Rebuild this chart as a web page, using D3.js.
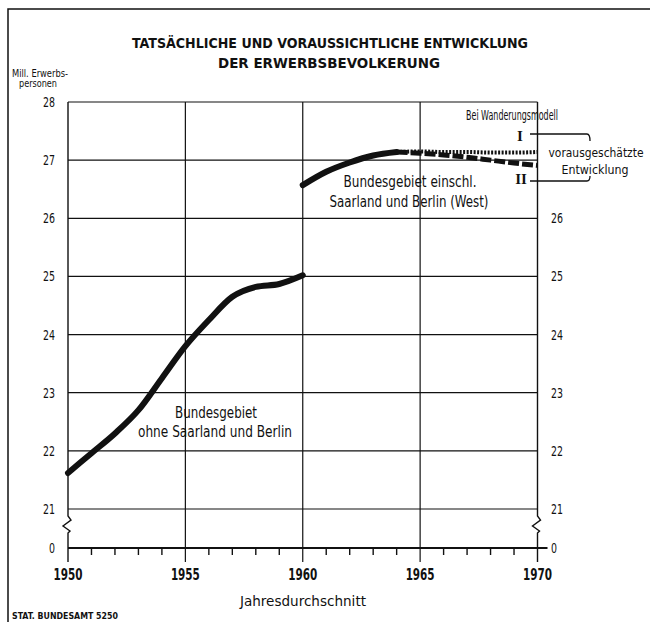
<!DOCTYPE html>
<html>
<head>
<meta charset="utf-8">
<script src="https://cdn.jsdelivr.net/npm/d3@7"></script>
<style>
  body { margin: 0; background: #fff; }
  svg { display: block; }
  text { font-family: "DejaVu Sans", "Liberation Sans", sans-serif; font-stretch: condensed; fill: #111; }
</style>
</head>
<body>
<div id="chart"></div>
<script>
// actual development, old territory (without Saarland and Berlin)
const years1 = [1950, 1951, 1952, 1953, 1954, 1955, 1956, 1957, 1958, 1959, 1960];
const values1 = [21.62, 21.96, 22.3, 22.7, 23.25, 23.8, 24.25, 24.65, 24.82, 24.87, 25.02];

// actual development incl. Saarland and Berlin (West)
const years2 = [1960, 1961, 1962, 1963, 1964];
const values2 = [26.57, 26.8, 26.96, 27.08, 27.14];

// projections, migration model I and II
const projYears = [1964, 1965, 1966, 1967, 1968, 1969, 1970];
const projI = [27.14, 27.15, 27.14, 27.14, 27.13, 27.13, 27.14];
const projII = [27.14, 27.12, 27.09, 27.05, 27.0, 26.95, 26.91];

const yTicks = [0, 21, 22, 23, 24, 25, 26, 27, 28];
const yTicksRight = [0, 21, 22, 23, 24, 25, 26];
const xMajor = [1950, 1955, 1960, 1965, 1970];

const W = 650, H = 622;
const svg = d3.select("#chart").append("svg")
    .attr("width", W)
    .attr("height", H);

const x = d3.scaleLinear().domain([1950, 1970]).range([68, 537.5]);
// broken axis: 0 sits just below 21
const y = d3.scaleLinear().domain([0, 21, 28]).range([548, 509, 102]);

const ink = "#111";

// outer frame (top + left only)
svg.append("path")
    .attr("d", "M8,622 L8,9 L650,9")
    .attr("fill", "none").attr("stroke", ink).attr("stroke-width", 1.5);

// title
svg.append("text").attr("x", 330).attr("y", 48).attr("text-anchor", "middle")
    .attr("textLength", 396).attr("lengthAdjust", "spacingAndGlyphs")
    .style("font-size", "14px").style("font-weight", "bold")
    .text("TATSÄCHLICHE UND VORAUSSICHTLICHE ENTWICKLUNG");
svg.append("text").attr("x", 329).attr("y", 68).attr("text-anchor", "middle")
    .attr("textLength", 222).attr("lengthAdjust", "spacingAndGlyphs")
    .style("font-size", "14px").style("font-weight", "bold")
    .text("DER ERWERBSBEVOLKERUNG");

// unit label
svg.append("text").attr("x", 40).attr("y", 77).attr("text-anchor", "middle")
    .attr("textLength", 56).attr("lengthAdjust", "spacingAndGlyphs")
    .style("font-size", "10px").text("Mill. Erwerbs-");
svg.append("text").attr("x", 38).attr("y", 87).attr("text-anchor", "middle")
    .attr("textLength", 38).attr("lengthAdjust", "spacingAndGlyphs")
    .style("font-size", "10px").text("personen");

const grid = svg.append("g").attr("stroke", ink).attr("fill", "none");

// horizontal grid lines 21..28
grid.selectAll("line.h")
    .data(yTicks.filter(d => d >= 21))
    .join("line")
    .attr("x1", x(1950)).attr("x2", x(1970))
    .attr("y1", d => y(d)).attr("y2", d => y(d))
    .attr("stroke-width", 1.2);

// inner vertical grid lines
grid.selectAll("line.v")
    .data(xMajor.filter(d => d > 1950 && d < 1970))
    .join("line")
    .attr("x1", d => x(d)).attr("x2", d => x(d))
    .attr("y1", y(28)).attr("y2", y(0) + 14)
    .attr("stroke-width", 1.2);

// side axes with break zigzag
function brokenAxis(px) {
    const yb = y(21) + 7;
    return `M${px},${y(28)} L${px},${yb} L${px + 3},${yb + 4} L${px - 5},${yb + 10} L${px + 2},${yb + 15} L${px},${yb + 17} L${px},${y(0) + 14}`;
}
[1950, 1970].forEach(yr => {
    grid.append("path").attr("d", brokenAxis(x(yr))).attr("stroke-width", 1.4);
});

// zero base line
grid.append("line")
    .attr("x1", x(1950)).attr("x2", x(1970) + 10)
    .attr("y1", y(0)).attr("y2", y(0))
    .attr("stroke-width", 2);

// minor year ticks
grid.selectAll("line.minor")
    .data(d3.range(1951, 1970).filter(d => d % 5 !== 0))
    .join("line")
    .attr("x1", d => x(d)).attr("x2", d => x(d))
    .attr("y1", y(0)).attr("y2", y(0) + 7)
    .attr("stroke-width", 1.4);

// y tick labels, left full set, right only below the legend
const tickFont = "14px";
svg.append("g").selectAll("text")
    .data(yTicks)
    .join("text")
    .attr("x", 55).attr("y", d => y(d) + 5)
    .attr("text-anchor", "end")
    .attr("textLength", d => String(d).length * 6)
    .attr("lengthAdjust", "spacingAndGlyphs")
    .style("font-size", tickFont)
    .text(d => d);
svg.append("g").selectAll("text")
    .data(yTicksRight)
    .join("text")
    .attr("x", 551).attr("y", d => y(d) + 5)
    .attr("text-anchor", "start")
    .attr("textLength", d => String(d).length * 6)
    .attr("lengthAdjust", "spacingAndGlyphs")
    .style("font-size", tickFont)
    .text(d => d);

// x tick labels
svg.append("g").selectAll("text")
    .data(xMajor)
    .join("text")
    .attr("x", d => x(d)).attr("y", 580)
    .attr("text-anchor", "middle")
    .attr("textLength", 29).attr("lengthAdjust", "spacingAndGlyphs")
    .style("font-size", "15px").style("font-weight", "bold")
    .text(d => d);

svg.append("text").attr("x", 303).attr("y", 606).attr("text-anchor", "middle")
    .attr("textLength", 126).attr("lengthAdjust", "spacingAndGlyphs")
    .style("font-size", "14px").text("Jahresdurchschnitt");

svg.append("text").attr("x", 12).attr("y", 619)
    .attr("textLength", 106).attr("lengthAdjust", "spacingAndGlyphs")
    .style("font-size", "9px").style("font-weight", "bold")
    .text("STAT. BUNDESAMT 5250");

// data lines
const line = d3.line().x(d => x(d[0])).y(d => y(d[1])).curve(d3.curveMonotoneX);
const pairs = (xs, vs) => xs.map((v, i) => [v, vs[i]]);

svg.append("path")
    .datum(pairs(projYears, projII))
    .attr("d", line)
    .attr("fill", "none").attr("stroke", ink)
    .attr("stroke-width", 5).attr("stroke-dasharray", "11,3");

svg.append("path")
    .datum(pairs(projYears, projI))
    .attr("d", line)
    .attr("fill", "none").attr("stroke", ink)
    .attr("stroke-width", 4).attr("stroke-dasharray", "2,1.5");

[pairs(years1, values1), pairs(years2, values2)].forEach(p => {
    svg.append("path")
        .datum(p)
        .attr("d", line)
        .attr("fill", "none").attr("stroke", ink)
        .attr("stroke-width", 6).attr("stroke-linecap", "round");
});

// in-plot labels
function label(tx, ty, len, txt, size) {
    svg.append("text").attr("x", tx).attr("y", ty).attr("text-anchor", "middle")
        .attr("textLength", len).attr("lengthAdjust", "spacingAndGlyphs")
        .style("font-size", size || "15px").text(txt);
}
label(216, 418, 82, "Bundesgebiet");
label(215, 437, 154, "ohne Saarland und Berlin");
label(410, 187, 133, "Bundesgebiet einschl.");
label(409, 207, 159, "Saarland und Berlin (West)");
label(512, 120, 92, "Bei Wanderungsmodell", "14px");
label(596, 157, 95, "vorausgeschätzte", "12.5px");
label(595, 174, 67, "Entwicklung", "13px");

// model markers I / II and bracket
svg.append("text").attr("x", 520).attr("y", 141).attr("text-anchor", "middle")
    .style("font-size", "15px").style("font-family", "Liberation Serif, serif").style("font-weight", "bold").text("I");
svg.append("text").attr("x", 521).attr("y", 184).attr("text-anchor", "middle")
    .style("font-size", "15px").style("font-family", "Liberation Serif, serif").style("font-weight", "bold").text("II");
svg.append("path")
    .attr("d", "M530,134 L587,134 Q590,134 590,141 M530,181 L587,181 Q590,181 590,176")
    .attr("fill", "none").attr("stroke", ink).attr("stroke-width", 1.3);
</script>
</body>
</html>
